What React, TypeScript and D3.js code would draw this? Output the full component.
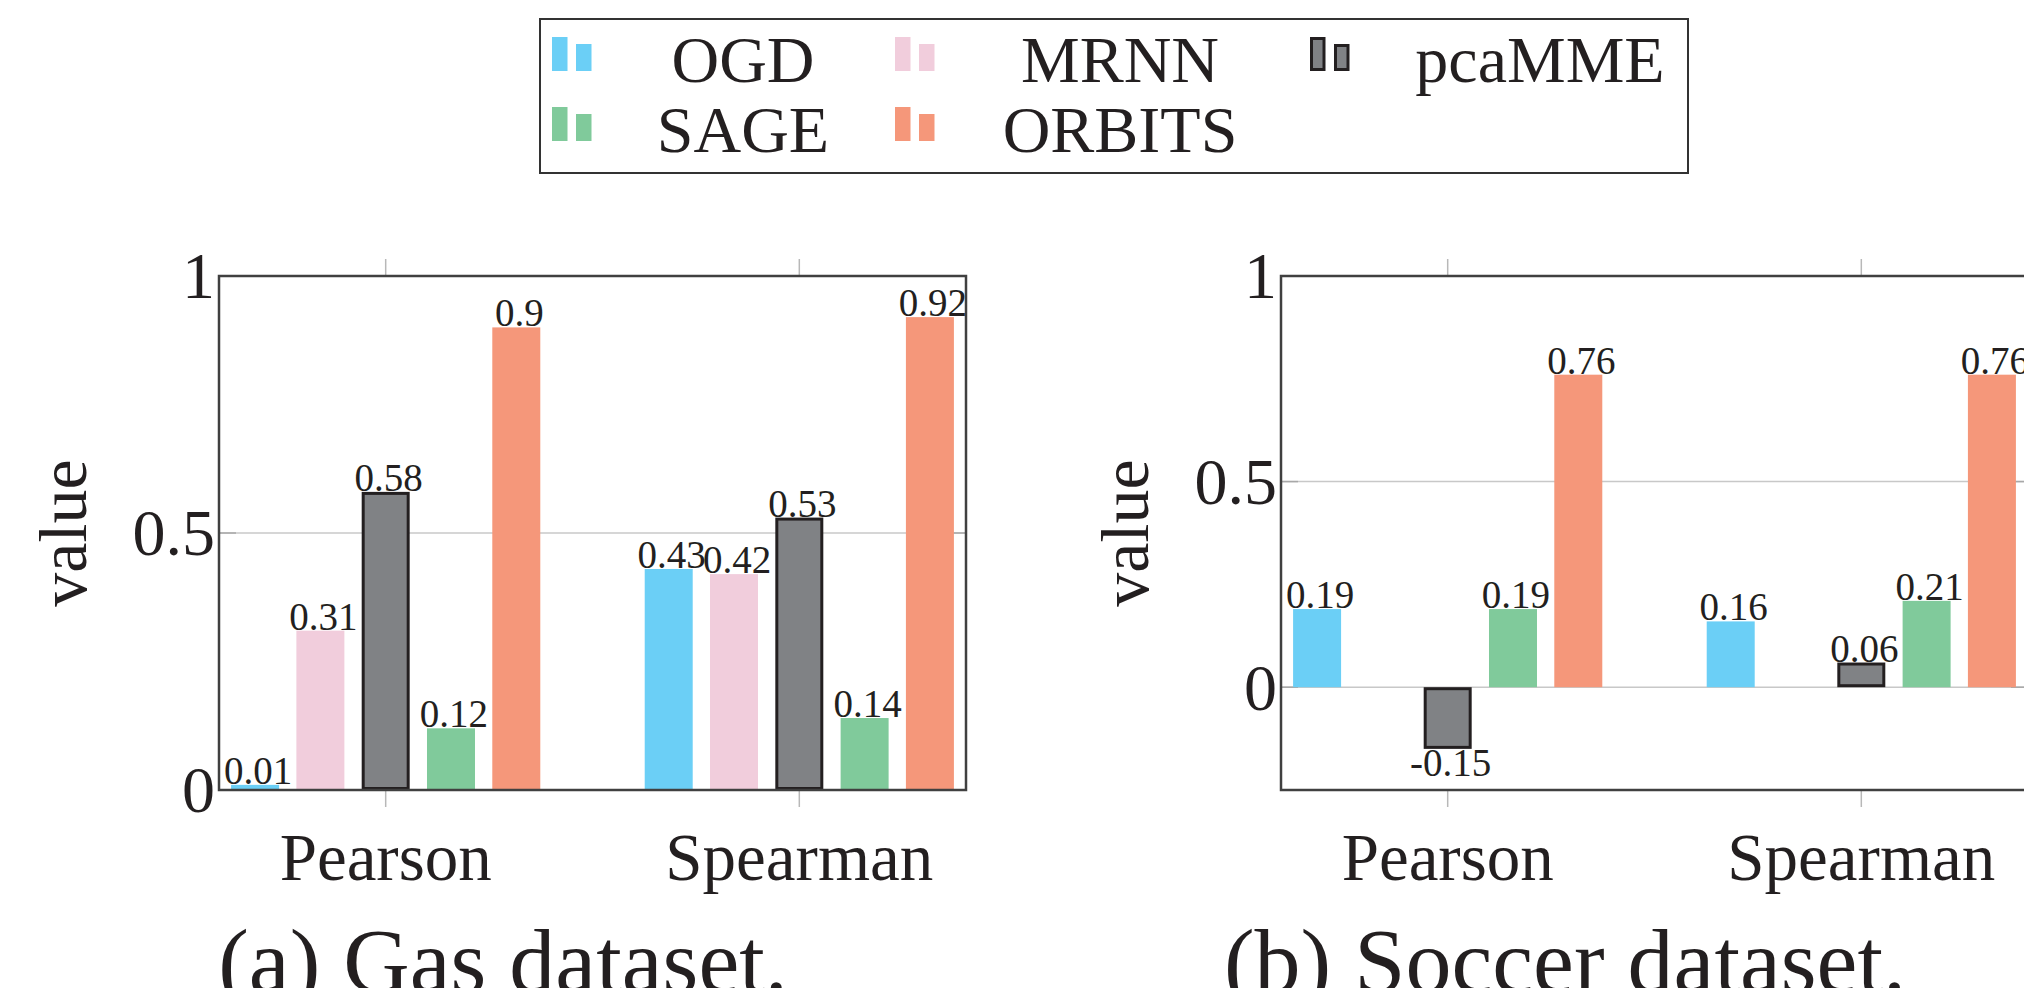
import React from 'react';
import { scaleLinear, scalePoint, scaleBand } from 'd3';

const categories = ['Pearson', 'Spearman'];
const seriesNames = ['OGD', 'MRNN', 'pcaMME', 'SAGE', 'ORBITS'];
const seriesColors = ['#6bcff6', '#f1cddc', '#808285', '#80ca9b', '#f5977a'];

// values per series, in category order (null = no bar)
const gasPearson = [0.01, 0.31, 0.58, 0.12, 0.9];
const gasSpearman = [0.43, 0.42, 0.53, 0.14, 0.92];
const soccerPearson = [0.19, null, -0.15, 0.19, 0.76];
const soccerSpearman = [0.16, null, 0.06, 0.21, 0.76];

const gasTicks = [0, 0.5, 1];
const soccerTicks = [0, 0.5, 1];
const tickLabels = ['0', '0.5', '1'];

const FONT = '"Liberation Serif", "Times New Roman", serif';
const INK = '#231f20';

const BOX_TOP = 276;
const BOX_BOTTOM = 790;
const BOX_W = 747;

type PanelProps = {
    left: number;
    domain: [number, number];
    data: (number | null)[][];
    ticks: number[];
    caption: string;
};

function Panel({ left, domain, data, ticks, caption }: PanelProps) {
    const x = scalePoint<string>()
        .domain(categories)
        .range([left, left + BOX_W])
        .padding(0.403);
    const inner = scaleBand<string>()
        .domain(seriesNames)
        .range([-163.25, 163.25])
        .paddingInner(0.265)
        .paddingOuter(0.1325);
    const y = scaleLinear().domain(domain).range([BOX_BOTTOM, BOX_TOP]);
    const bw = inner.bandwidth();
    const right = left + BOX_W;
    const midY = (BOX_TOP + BOX_BOTTOM) / 2;

    return (
        <g>
            {/* grid */}
            {ticks.map(t => (
                <g key={t}>
                    <line x1={left} x2={right} y1={y(t)} y2={y(t)} stroke="#c8c8c8" strokeWidth={1.5} />
                    <line x1={left} x2={left + 17} y1={y(t)} y2={y(t)} stroke="#a8a8a8" strokeWidth={1.5} />
                    <line x1={right - 17} x2={right} y1={y(t)} y2={y(t)} stroke="#a8a8a8" strokeWidth={1.5} />
                </g>
            ))}

            {/* x ticks outside the box */}
            {categories.map(c => (
                <g key={c}>
                    <line x1={x(c)} x2={x(c)} y1={BOX_TOP - 17} y2={BOX_TOP} stroke="#b8b8b8" strokeWidth={1.5} />
                    <line x1={x(c)} x2={x(c)} y1={BOX_BOTTOM} y2={BOX_BOTTOM + 17} stroke="#b8b8b8" strokeWidth={1.5} />
                </g>
            ))}

            {/* bars */}
            {categories.map((c, ci) =>
                seriesNames.map((s, si) => {
                    const v = data[ci][si];
                    if (v === null) return null;
                    const bx = (x(c) as number) + (inner(s) as number);
                    const y0 = y(0);
                    const yv = y(v);
                    const isPca = s === 'pcaMME';
                    return (
                        <rect
                            key={c + s}
                            x={isPca ? bx + 1.5 : bx}
                            y={Math.min(y0, yv) + (isPca ? 1.5 : 0)}
                            width={isPca ? bw - 3 : bw}
                            height={Math.abs(y0 - yv) - (isPca ? 3 : 0)}
                            fill={seriesColors[si]}
                            stroke={isPca ? INK : 'none'}
                            strokeWidth={3}
                        />
                    );
                })
            )}

            {/* value labels */}
            {categories.map((c, ci) =>
                seriesNames.map((s, si) => {
                    const v = data[ci][si];
                    if (v === null) return null;
                    const cx = (x(c) as number) + (inner(s) as number) + bw / 2 + 3;
                    return (
                        <text
                            key={'l' + c + s}
                            x={cx}
                            y={v < 0 ? y(v) + 27 : y(v) - 1}
                            textAnchor="middle"
                            fontFamily={FONT}
                            fontSize={39}
                            fill={INK}
                        >
                            {String(v)}
                        </text>
                    );
                })
            )}

            {/* box */}
            <rect x={left} y={BOX_TOP} width={BOX_W} height={BOX_BOTTOM - BOX_TOP} fill="none" stroke="#404040" strokeWidth={2.5} />

            {/* y tick labels */}
            {ticks.map((t, i) => (
                <text
                    key={'yt' + t}
                    x={left - 4}
                    y={y(t)}
                    dy="0.34em"
                    textAnchor="end"
                    fontFamily={FONT}
                    fontSize={66}
                    fill={INK}
                >
                    {tickLabels[i]}
                </text>
            ))}

            {/* x tick labels */}
            {categories.map(c => (
                <text
                    key={'xt' + c}
                    x={x(c)}
                    y={880}
                    textAnchor="middle"
                    fontFamily={FONT}
                    fontSize={67}
                    fill={INK}
                >
                    {c}
                </text>
            ))}

            {/* y axis title */}
            <text
                x={left - 155}
                y={midY}
                textAnchor="middle"
                dy="0.33em"
                fontFamily={FONT}
                fontSize={68}
                fill={INK}
                transform={`rotate(-90, ${left - 155}, ${midY})`}
            >
                value
            </text>

            {/* caption */}
            <text
                x={(left - 179 + right) / 2}
                y={992}
                textAnchor="middle"
                fontFamily={FONT}
                fontSize={92}
                fill={INK}
            >
                {caption}
            </text>
        </g>
    );
}

function Legend() {
    // column anchors of the legend (icon left edge, text centre)
    const cols = [
        { icon: 552, text: 743 },
        { icon: 895, text: 1120 },
        { icon: 1310, text: 1540 },
    ];
    return (
        <g>
            <rect x={540} y={19} width={1148} height={154} fill="white" stroke="#333" strokeWidth={2} />
            {seriesNames.map((s, i) => {
                const row = Math.floor(i / 3);
                const col = cols[i % 3];
                const base = 71 + row * 70;
                const isPca = s === 'pcaMME';
                const st = isPca ? INK : 'none';
                const inset = isPca ? 1.5 : 0;
                return (
                    <g key={s}>
                        <rect x={col.icon + inset} y={base - 34 + inset} width={15.5 - inset * 2} height={34 - inset * 2}
                            fill={seriesColors[i]} stroke={st} strokeWidth={3} />
                        <rect x={col.icon + 24 + inset} y={base - 27 + inset} width={15.5 - inset * 2} height={27 - inset * 2}
                            fill={seriesColors[i]} stroke={st} strokeWidth={3} />
                        <text x={col.text} y={base + 11} textAnchor="middle" fontFamily={FONT} fontSize={66} fill={INK}>
                            {s}
                        </text>
                    </g>
                );
            })}
        </g>
    );
}

export default function App() {
    return (
        <svg
            width={2024}
            height={988}
            style={{ position: 'absolute', left: 0, top: 0, background: 'white' }}
        >
            <rect x={0} y={0} width={2024} height={988} fill="white" />
            <Legend />
            <Panel left={219} domain={[0, 1]} data={[gasPearson, gasSpearman]} ticks={gasTicks} caption="(a) Gas dataset." />
            <Panel left={1281} domain={[-0.25, 1]} data={[soccerPearson, soccerSpearman]} ticks={soccerTicks} caption="(b) Soccer dataset." />
        </svg>
    );
}
